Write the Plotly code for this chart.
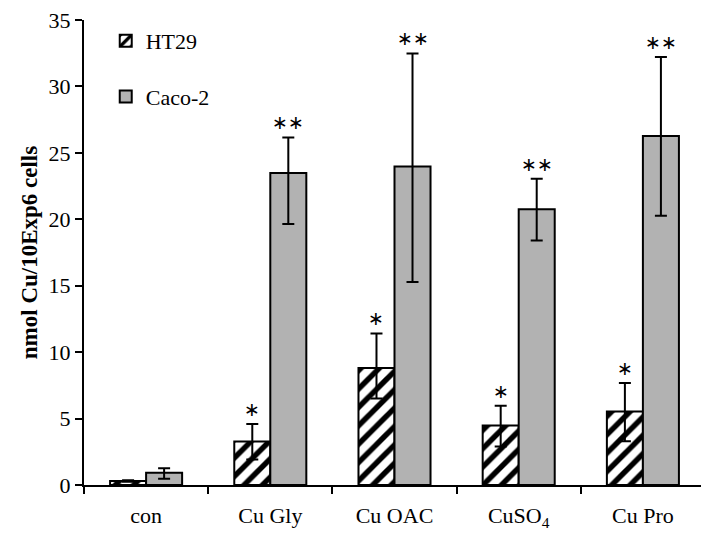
import plotly.graph_objects as go

categories = ["con", "Cu Gly", "Cu OAC", "CuSO<sub>4</sub>", "Cu Pro"]
ht29 = [0.3, 3.28, 8.81, 4.47, 5.53]
ht29_err_plus = [0.05, 1.31, 2.6, 1.49, 2.14]
ht29_err_minus = [0.05, 1.37, 2.3, 1.57, 2.23]
caco2 = [0.92, 23.48, 23.98, 20.76, 26.26]
caco2_err_plus = [0.35, 2.68, 8.5, 2.3, 5.96]
caco2_err_minus = [0.45, 3.84, 8.7, 2.36, 6.0]
ht29_sig = ["", "∗", "∗", "∗", "∗"]
caco2_sig = ["", "∗∗", "∗∗", "∗∗", "∗∗"]
y_ticks = [0, 5, 10, 15, 20, 25, 30, 35]

FONT = "Liberation Serif"
bargap = 0.42
half = (1 - bargap) / 4

fig = go.Figure()
fig.add_trace(go.Bar(
    name="HT29", x=categories, y=ht29, legendgroup="a",
    marker=dict(color="white", line=dict(color="black", width=2),
                pattern=dict(shape="/", fgcolor="black", bgcolor="white",
                             fillmode="replace", size=13, solidity=0.42)),
    error_y=dict(type="data", symmetric=False, array=ht29_err_plus,
                 arrayminus=ht29_err_minus, color="black", thickness=2, width=6),
))
fig.add_trace(go.Bar(
    name="Caco-2", x=categories, y=caco2, legendgroup="b",
    marker=dict(color="#b2b2b2", line=dict(color="black", width=2)),
    error_y=dict(type="data", symmetric=False, array=caco2_err_plus,
                 arrayminus=caco2_err_minus, color="black", thickness=2, width=6),
))

for i in range(len(categories)):
    if ht29_sig[i]:
        fig.add_annotation(x=i - half, y=ht29[i] + ht29_err_plus[i], xref="x", yref="y",
                           text=ht29_sig[i], showarrow=False,
                           yanchor="bottom", yshift=2,
                           font=dict(family="DejaVu Sans", size=19, color="black"))
    if caco2_sig[i]:
        fig.add_annotation(x=i + half, y=caco2[i] + caco2_err_plus[i], xref="x", yref="y",
                           text=caco2_sig[i], showarrow=False,
                           yanchor="bottom", yshift=2,
                           font=dict(family="DejaVu Sans", size=19, color="black"))

fig.update_layout(
    width=709, height=534,
    margin=dict(l=76, r=12, t=12, b=57),
    paper_bgcolor="white", plot_bgcolor="white",
    barmode="group", bargap=bargap, bargroupgap=0,
    font=dict(family=FONT, size=22, color="black"),
    legend=dict(x=0.035, y=1.0, xanchor="left", yanchor="top",
                bgcolor="rgba(0,0,0,0)", font=dict(family=FONT, size=22),
                tracegroupgap=24, traceorder="grouped"),
    xaxis=dict(type="category", range=[-0.5, 4.5], showline=True, linecolor="black",
               linewidth=2, ticks="outside", tickson="boundaries", ticklen=7,
               tickwidth=2, tickcolor="black", showgrid=False, ticklabelstandoff=10,
               automargin=False, tickfont=dict(family=FONT, size=22)),
    yaxis=dict(range=[0, 35], tickvals=y_ticks, showline=True, linecolor="black",
               linewidth=2, ticks="outside", ticklen=7, tickwidth=2, tickcolor="black",
               showgrid=False, zeroline=False, automargin=False,
               ticklabeloverflow="allow",
               tickfont=dict(family=FONT, size=22),
               title=dict(text="<b>nmol Cu/10Exp6 cells</b>", standoff=5,
                          font=dict(family=FONT, size=23))),
)

fig.write_html("out.html")
